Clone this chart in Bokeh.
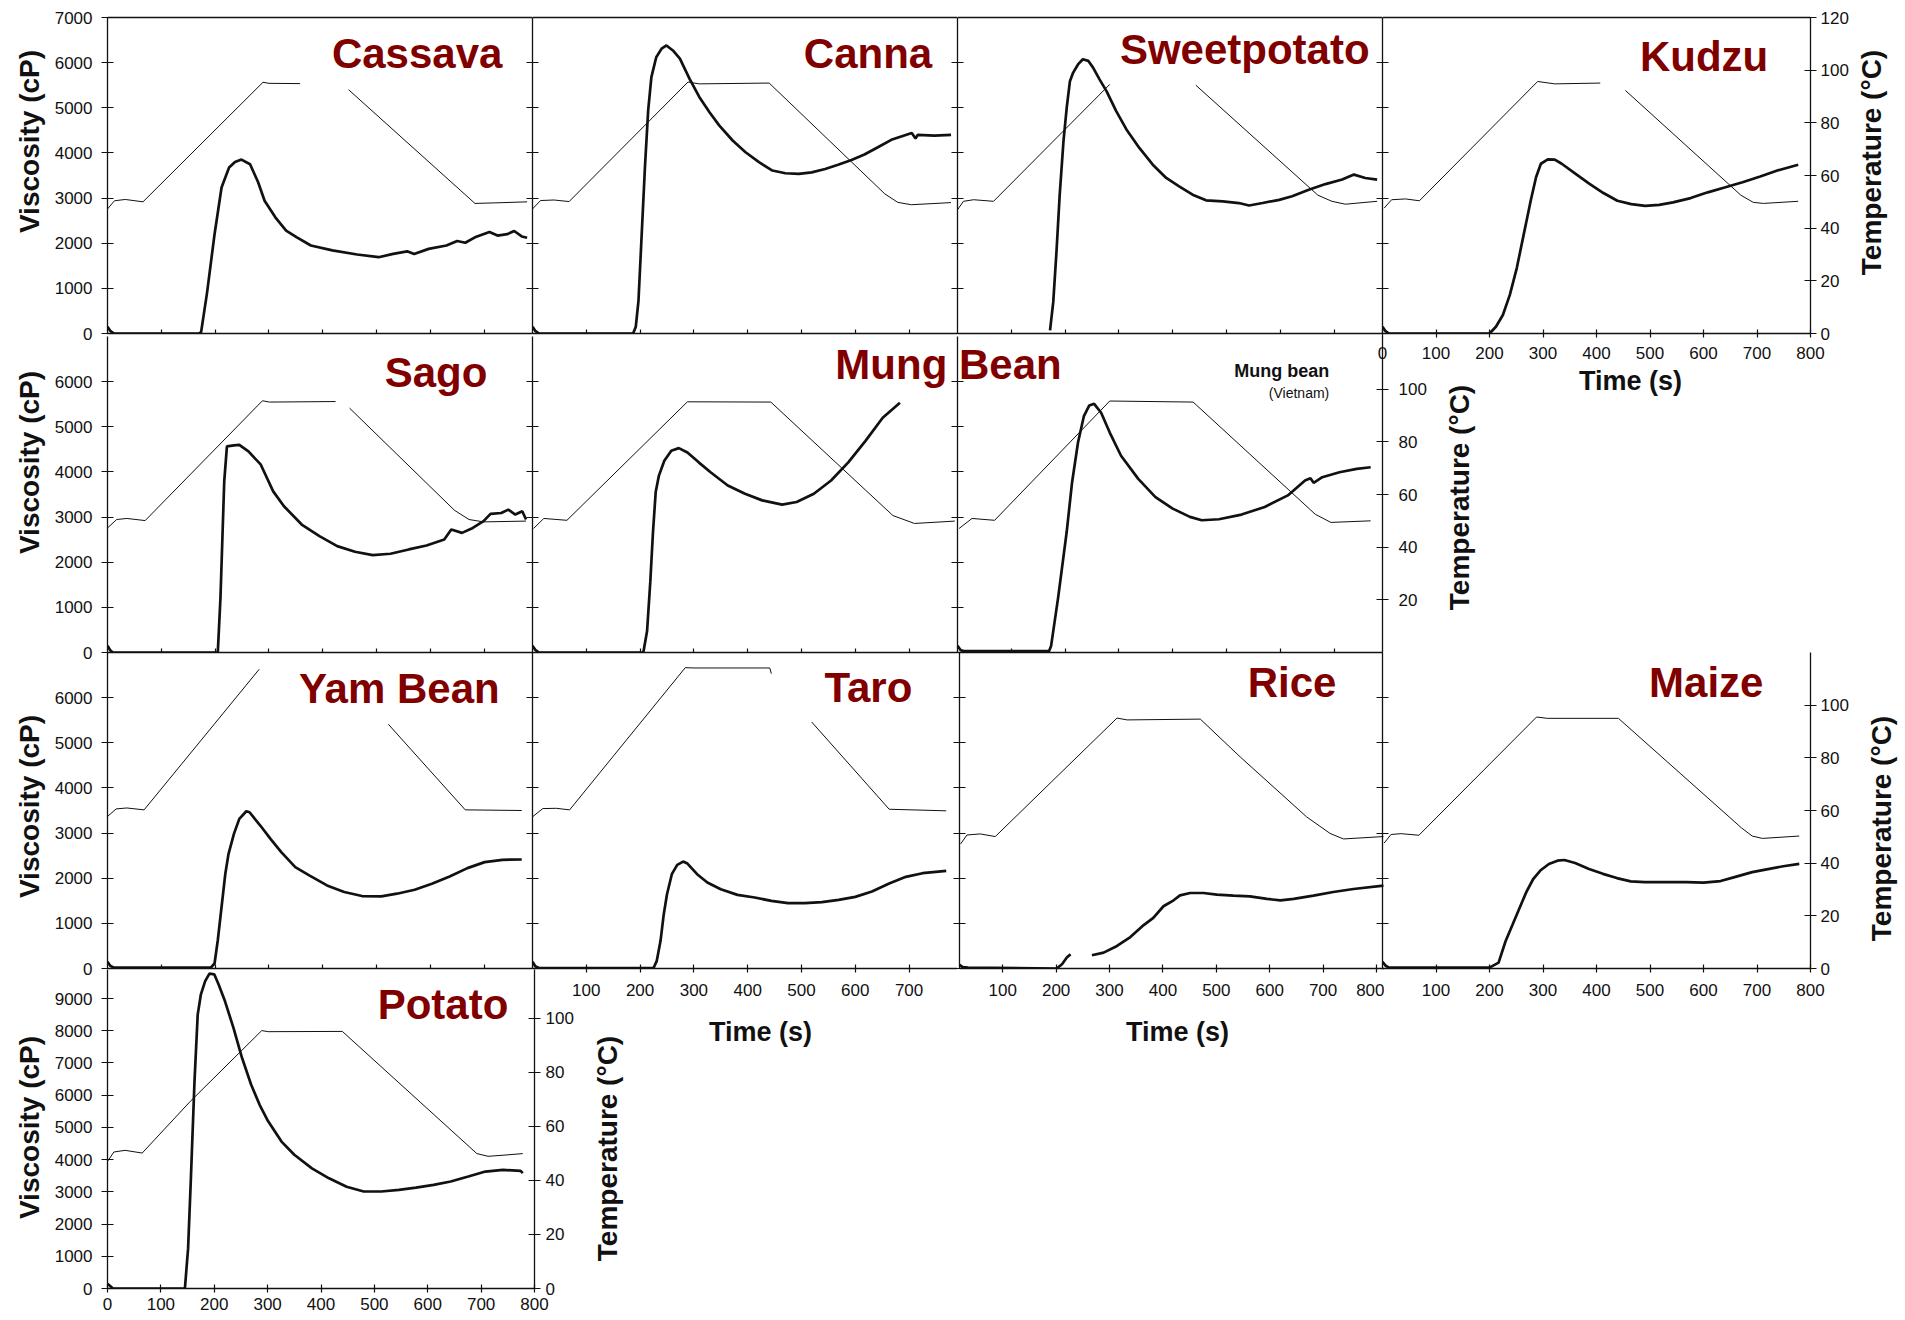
import math
import numpy as np
from bokeh.plotting import figure
from bokeh.layouts import column
from bokeh.models import Range1d, LinearAxis, FixedTicker, Label, GridBox
from bokeh.embed import file_html
from bokeh.resources import INLINE

NAN = float("nan")

# ---------------- data (time s, viscosity cP / temperature degC) ----------------
cassava_t = [0, 5, 12, 170, 174, 185, 199, 212, 226, 237, 249, 265, 280, 292, 312, 332, 352, 378, 418, 464, 504, 531, 557, 570, 597, 630, 650, 665, 683, 710, 725, 743, 756, 770, 780]
cassava_v = [150, 60, 0, 0, 30, 900, 2200, 3235, 3676, 3800, 3853, 3750, 3350, 2941, 2574, 2280, 2130, 1950, 1840, 1750, 1690, 1765, 1820, 1760, 1875, 1950, 2050, 2010, 2130, 2250, 2170, 2200, 2270, 2150, 2120]
cassava_tt = [0, 13, 33, 66, 289, 300, 358, 400, 448, 664, 683, 720, 780]
cassava_tv = [47.3, 50.4, 50.9, 50.0, 95.4, 95.0, 94.9, NAN, 92.6, 52.9, 49.4, 49.6, 50.0]

canna_t = [0, 5, 12, 187, 192, 197, 203, 209, 215, 221, 230, 240, 249, 261, 274, 292, 310, 329, 347, 372, 396, 421, 446, 470, 495, 519, 544, 568, 593, 617, 642, 667, 691, 705, 712, 716, 747, 778]
canna_v = [150, 60, 0, 0, 150, 725, 2200, 3680, 4940, 5680, 6120, 6310, 6380, 6270, 6090, 5640, 5240, 4900, 4610, 4275, 4015, 3795, 3610, 3550, 3535, 3570, 3645, 3740, 3845, 3965, 4125, 4290, 4385, 4440, 4320, 4400, 4385, 4400]
canna_tt = [0, 15, 40, 68, 289, 310, 440, 655, 679, 704, 778]
canna_tv = [47.3, 50.5, 50.7, 50.1, 95.5, 94.8, 95.1, 53.0, 49.8, 48.9, 49.7]

sweet_t = [172, 178, 184, 190, 197, 203, 209, 215, 224, 233, 243, 252, 264, 277, 295, 314, 338, 363, 388, 412, 437, 462, 493, 523, 542, 567, 598, 622, 653, 684, 715, 737, 758, 780]
sweet_v = [70, 700, 1815, 3075, 4260, 5000, 5590, 5780, 5960, 6075, 6040, 5890, 5630, 5370, 4925, 4520, 4110, 3740, 3445, 3260, 3075, 2950, 2925, 2890, 2835, 2890, 2960, 3040, 3185, 3310, 3410, 3520, 3445, 3410]
sweet_tt = [0, 11, 30, 67, 283, 360, 443, 670, 696, 721, 780]
sweet_tv = [47.0, 50.2, 50.8, 50.2, 94.6, NAN, 94.3, 52.5, 50.2, 49.1, 50.2]

kudzu_t = [0, 5, 12, 200, 212, 225, 238, 251, 264, 277, 287, 296, 309, 322, 335, 361, 387, 413, 439, 465, 491, 517, 543, 576, 608, 641, 673, 706, 738, 777]
kudzu_v = [150, 60, 0, 0, 150, 410, 856, 1450, 2196, 2940, 3460, 3760, 3856, 3850, 3760, 3536, 3313, 3112, 2940, 2866, 2829, 2851, 2904, 3000, 3127, 3239, 3350, 3477, 3611, 3737]
kudzu_tt = [3, 17, 43, 69, 290, 322, 407, 430, 454, 670, 693, 712, 777]
kudzu_tv = [47.6, 50.8, 51.1, 50.4, 95.7, 94.8, 95.1, NAN, 92.3, 52.5, 49.8, 49.4, 50.2]

sago_t = [0, 5, 10, 205, 210, 214, 217, 222, 235, 245, 262, 285, 308, 328, 361, 394, 427, 460, 493, 526, 560, 593, 626, 639, 659, 679, 699, 712, 732, 745, 758, 771, 778]
sago_v = [150, 50, 0, 0, 1215, 2690, 3790, 4565, 4590, 4600, 4455, 4160, 3570, 3240, 2835, 2577, 2356, 2231, 2158, 2187, 2283, 2371, 2504, 2725, 2650, 2760, 2910, 3070, 3090, 3165, 3055, 3130, 2945]
sago_tt = [0, 17, 36, 70, 288, 301, 424, 437, 450, 645, 672, 699, 778]
sago_tv = [47.3, 50.5, 50.9, 50.1, 95.6, 95.1, 95.3, NAN, 92.8, 54.0, 50.5, 49.6, 49.9]

mung_t = [0, 5, 12, 206, 213, 219, 224, 229, 235, 245, 258, 272, 288, 309, 331, 363, 395, 427, 464, 491, 523, 555, 587, 619, 651, 683]
mung_v = [150, 60, 0, 0, 476, 1575, 2674, 3553, 3919, 4249, 4469, 4527, 4432, 4212, 3993, 3700, 3516, 3370, 3275, 3333, 3516, 3810, 4212, 4689, 5201, 5531]
mung_tt = [2, 21, 64, 288, 443, 670, 710, 785]
mung_tv = [47.1, 50.9, 50.2, 95.2, 95.1, 52.0, 49.0, 49.9]

viet_t = [0, 6, 12, 170, 174, 187, 203, 213, 224, 235, 245, 254, 267, 283, 304, 336, 368, 400, 432, 454, 486, 528, 571, 614, 646, 656, 662, 678, 710, 742, 768]
viet_v = [150, 50, 30, 30, 146, 1209, 2674, 3773, 4652, 5238, 5472, 5509, 5311, 4872, 4359, 3846, 3443, 3187, 3004, 2930, 2952, 3055, 3223, 3480, 3810, 3861, 3758, 3883, 3993, 4066, 4103]
viet_tt = [3, 27, 69, 283, 438, 665, 694, 768]
viet_tv = [47.1, 50.9, 50.2, 95.5, 95.1, 52.5, 49.4, 50.0]

yam_t = [0, 5, 12, 192, 199, 205, 212, 219, 225, 235, 245, 258, 264, 284, 303, 323, 349, 375, 408, 440, 473, 509, 538, 571, 603, 636, 669, 701, 734, 770]
yam_v = [150, 60, 20, 20, 110, 626, 1362, 2099, 2540, 2982, 3314, 3483, 3461, 3167, 2872, 2577, 2246, 2062, 1841, 1694, 1605, 1598, 1657, 1745, 1878, 2040, 2224, 2356, 2408, 2415]
yam_tt = [0, 16, 36, 68, 282, 400, 522, 665, 770]
yam_tv = [48.1, 50.5, 50.8, 50.2, 94.7, NAN, 77.3, 50.2, 50.0]

taro_t = [0, 5, 12, 225, 231, 238, 244, 250, 259, 269, 280, 288, 306, 325, 350, 381, 413, 444, 475, 506, 538, 569, 600, 631, 663, 694, 725, 769]
taro_v = [150, 50, 10, 10, 170, 613, 1203, 1646, 2089, 2295, 2369, 2325, 2089, 1904, 1756, 1631, 1572, 1498, 1447, 1447, 1469, 1520, 1587, 1705, 1882, 2030, 2111, 2162]
taro_tt = [0, 19, 44, 69, 284, 300, 441, 444, 480, 519, 663, 769]
taro_tv = [48.0, 50.6, 50.7, 50.2, 95.2, 95.1, 95.1, 93.3, NAN, 78.0, 50.4, 49.9]

rice_t = [19, 25, 35, 201, 211, 220, 227, 247, 267, 289, 314, 339, 364, 382, 401, 420, 432, 451, 476, 501, 532, 563, 595, 620, 645, 682, 719, 757, 813]
rice_v = [80, 30, 20, 0, 95, 242, 315, NAN, 293, 352, 499, 697, 961, 1122, 1379, 1511, 1621, 1673, 1673, 1636, 1614, 1599, 1541, 1511, 1541, 1614, 1695, 1761, 1834]
rice_tt = [21, 33, 58, 86, 314, 333, 470, 545, 669, 713, 738, 813]
rice_tv = [47.3, 50.7, 51.1, 50.1, 95.1, 94.4, 94.7, 80.3, 57.6, 51.3, 49.2, 50.1]

maize_t = [0, 6, 12, 200, 217, 230, 243, 256, 269, 282, 295, 311, 327, 340, 360, 386, 412, 438, 464, 490, 529, 568, 600, 632, 658, 691, 723, 749, 779]
maize_v = [150, 60, 20, 20, 131, 604, 968, 1333, 1697, 1988, 2170, 2316, 2388, 2403, 2338, 2206, 2097, 2003, 1930, 1915, 1915, 1915, 1901, 1937, 2024, 2134, 2206, 2265, 2316]
maize_tt = [3, 16, 35, 68, 288, 308, 441, 671, 691, 710, 779]
maize_tv = [47.6, 50.9, 51.2, 50.6, 95.5, 95.0, 95.0, 53.4, 50.3, 49.4, 50.3]

potato_t = [0, 5, 10, 145, 151, 156, 163, 169, 175, 183, 191, 200, 208, 220, 236, 252, 269, 285, 301, 326, 350, 383, 415, 448, 480, 513, 546, 578, 611, 643, 676, 708, 741, 774, 778]
potato_v = [150, 80, 0, 0, 1245, 3320, 6430, 8500, 9130, 9540, 9770, 9750, 9440, 8920, 8090, 7160, 6330, 5700, 5190, 4560, 4150, 3730, 3420, 3160, 3010, 3010, 3060, 3130, 3215, 3320, 3475, 3630, 3680, 3650, 3580]
potato_tt = [0, 12, 33, 65, 155, 289, 301, 440, 692, 713, 741, 778]
potato_tv = [47.0, 50.5, 51.1, 50.1, 69.2, 95.4, 95.0, 95.1, 49.9, 48.9, 49.3, 49.9]

visc_ticks_7 = [0, 1000, 2000, 3000, 4000, 5000, 6000, 7000]
visc_ticks_6 = [0, 1000, 2000, 3000, 4000, 5000, 6000]
visc_ticks_9 = [0, 1000, 2000, 3000, 4000, 5000, 6000, 7000, 8000, 9000]
time_ticks_inner = [100, 200, 300, 400, 500, 600, 700]
time_ticks_0_800 = [0, 100, 200, 300, 400, 500, 600, 700, 800]
time_ticks_100_800 = [100, 200, 300, 400, 500, 600, 700, 800]
time_ticks_100_700 = [100, 200, 300, 400, 500, 600, 700]
temp_ticks_120 = [0, 20, 40, 60, 80, 100, 120]
temp_ticks_100 = [0, 20, 40, 60, 80, 100]
temp_ticks_20_100 = [20, 40, 60, 80, 100]

# ---------------- styling helpers ----------------
FONT = "Liberation Sans"
RED = "#800000"
INK = "#111111"


def style_axis(ax, labels, tick_in, tick_out, standoff=6):
    ax.axis_line_color = INK
    ax.axis_line_width = 1.3
    ax.major_tick_line_color = INK if (tick_in or tick_out) else None
    ax.major_tick_line_width = 1.2
    ax.major_tick_in = tick_in
    ax.major_tick_out = tick_out
    ax.minor_tick_line_color = None
    ax.major_label_text_font = FONT
    ax.major_label_text_font_size = "17px"
    if labels:
        ax.major_label_text_color = INK
        ax.major_label_standoff = standoff
    else:
        ax.major_label_text_color = None
        ax.major_label_standoff = 0


PLACES = []


def base(frame_left, frame_top, fw, fh, xr, yr, tr, bl, br, bt, bb):
    p = figure(frame_width=fw, frame_height=fh,
               x_range=Range1d(*xr), y_range=Range1d(*yr),
               x_axis_type=None, y_axis_type=None,
               output_backend="svg", toolbar_location=None,
               min_border_left=bl, min_border_right=br,
               min_border_top=bt, min_border_bottom=bb)
    p.extra_y_ranges = {"temp": Range1d(*tr)}
    p.outline_line_color = None
    p.background_fill_color = None
    p.border_fill_color = None
    PLACES.append((p, frame_top - bt, frame_left - bl))
    return p


def text_box(cx, cy, w, h, text, size, angle=0.0, color=INK, bold=True):
    """A bare transparent frame that carries one piece of text centred in it."""
    p = figure(frame_width=w, frame_height=h, x_range=Range1d(0, 1), y_range=Range1d(0, 1),
               x_axis_type=None, y_axis_type=None, output_backend="svg", toolbar_location=None,
               min_border_left=0, min_border_right=0, min_border_top=0, min_border_bottom=0)
    p.outline_line_color = None
    p.background_fill_color = None
    p.border_fill_color = None
    p.add_layout(Label(x=0.5, y=0.5, text=text, angle=angle, text_align="center",
                       text_baseline="middle", text_font=FONT,
                       text_font_style="bold" if bold else "normal",
                       text_font_size=f"{size}px", text_color=color))
    PLACES.append((p, int(round(cy - h / 2)), int(round(cx - w / 2))))
    return p


def curves(p, t, v, tt, tv):
    p.line(np.array(tt, dtype=float), np.array(tv, dtype=float), y_range_name="temp",
           line_color=INK, line_width=1.0)
    p.line(np.array(t, dtype=float), np.array(v, dtype=float), line_color=INK, line_width=2.7)


def left_axis(p, ticks, labels=False):
    ax = LinearAxis(ticker=FixedTicker(ticks=ticks))
    style_axis(ax, labels, 6, 6, standoff=9)
    p.add_layout(ax, "left")


def bottom_axis(p, ticks, labels=False, standoff=6):
    ax = LinearAxis(ticker=FixedTicker(ticks=ticks))
    style_axis(ax, labels, 4, 4 if labels else 0, standoff)
    p.add_layout(ax, "below")


def right_axis(p, ticks, standoff=6):
    ax = LinearAxis(y_range_name="temp", ticker=FixedTicker(ticks=ticks))
    style_axis(ax, True, 6, 6, standoff)
    p.add_layout(ax, "right")


def top_line(p):
    ax = LinearAxis(ticker=FixedTicker(ticks=[]))
    style_axis(ax, False, 0, 0)
    p.add_layout(ax, "above")


def name_label(p, text, x, y, size=42, color=RED, bold=True):
    p.add_layout(Label(x=x, y=y, text=text, text_align="right", text_baseline="middle",
                       text_font=FONT, text_font_style="bold" if bold else "normal",
                       text_font_size=f"{size}px", text_color=color))


VISC = "Viscosity (cP)"
TEMP = "Temperature (°C)"
TIME = "Time (s)"
UP = math.pi / 2

UL = 46   # unlabeled left axes (labels hidden but still measured)
UB = 24   # unlabeled bottom axes
LL = 62   # labeled left axes

# ---------------- row 1 ----------------
p = base(107, 17, 425, 316, (0, 790), (0, 7000), (0, 120), LL, 0, 9, UB)
curves(p, cassava_t, cassava_v, cassava_tt, cassava_tv)
left_axis(p, visc_ticks_7, True)
bottom_axis(p, time_ticks_inner)
top_line(p)
name_label(p, "Cassava", 734, 6200)

p = base(532, 17, 425, 316, (0, 790), (0, 7000), (0, 120), UL, 0, 9, UB)
curves(p, canna_t, canna_v, canna_tt, canna_tv)
left_axis(p, visc_ticks_6)
bottom_axis(p, time_ticks_inner)
top_line(p)
name_label(p, "Canna", 743, 6200)

p = base(957, 17, 425, 316, (0, 790), (0, 7000), (0, 120), UL, 0, 9, UB)
curves(p, sweet_t, sweet_v, sweet_tt, sweet_tv)
left_axis(p, visc_ticks_6)
bottom_axis(p, time_ticks_inner)
top_line(p)
name_label(p, "Sweetpotato", 766, 6300)

p = base(1382, 17, 428, 316, (0, 800), (0, 7000), (0, 120), UL, 45, 9, 36)
curves(p, kudzu_t, kudzu_v, kudzu_tt, kudzu_tv)
left_axis(p, visc_ticks_6)
bottom_axis(p, time_ticks_0_800, True, standoff=9)
right_axis(p, temp_ticks_120, standoff=4)
top_line(p)
name_label(p, "Kudzu", 721, 6140)

# ---------------- row 2 ----------------
p = base(107, 336, 425, 316, (0, 790), (0, 7000), (0, 120), LL, 0, 3, UB)
curves(p, sago_t, sago_v, sago_tt, sago_tv)
left_axis(p, visc_ticks_6, True)
bottom_axis(p, time_ticks_inner)
name_label(p, "Sago", 706, 6200)

p = base(532, 336, 425, 316, (0, 790), (0, 7000), (0, 120), UL, 0, 3, UB)
curves(p, mung_t, mung_v, mung_tt, mung_tv)
left_axis(p, visc_ticks_6)
bottom_axis(p, time_ticks_inner)

p = base(957, 336, 425, 316, (0, 790), (0, 7000), (0, 120), UL, 50, 3, UB)
curves(p, viet_t, viet_v, viet_tt, viet_tv)
left_axis(p, visc_ticks_6)
bottom_axis(p, time_ticks_inner)
right_axis(p, temp_ticks_20_100, standoff=10)
name_label(p, "Mung bean", 691, 6240, size=18, color=INK)
name_label(p, "(Vietnam)", 691, 5750, size=14, color=INK, bold=False)

# ---------------- row 3 ----------------
p = base(107, 652, 425, 316, (0, 790), (0, 7000), (0, 100), LL, 0, 3, UB)
curves(p, yam_t, yam_v, yam_tt, yam_tv)
left_axis(p, visc_ticks_6, True)
bottom_axis(p, time_ticks_inner)
name_label(p, "Yam Bean", 729, 6200)

p = base(532, 652, 425, 316, (0, 790), (0, 7000), (0, 100), UL, 0, 3, 38)
curves(p, taro_t, taro_v, taro_tt, taro_tv)
left_axis(p, visc_ticks_6)
bottom_axis(p, time_ticks_100_700, True, standoff=11)
name_label(p, "Taro", 706, 6220)

p = base(959, 652, 425, 316, (19, 815), (0, 7000), (0, 120), UL, 0, 3, 38)
curves(p, rice_t, rice_v, rice_tt, rice_tv)
left_axis(p, visc_ticks_6)
bottom_axis(p, time_ticks_100_800, True, standoff=11)
name_label(p, "Rice", 725, 6330)

p = base(1382, 652, 428, 316, (0, 800), (0, 7000), (0, 120), UL, 45, 3, 38)
curves(p, maize_t, maize_v, maize_tt, maize_tv)
left_axis(p, visc_ticks_6)
bottom_axis(p, time_ticks_100_800, True, standoff=11)
right_axis(p, temp_ticks_100, standoff=4)
name_label(p, "Maize", 712, 6330)

# ---------------- row 4 ----------------
p = base(107, 969, 427, 319, (0, 800), (0, 9900), (0, 118), LL, 45, 3, 30)
curves(p, potato_t, potato_v, potato_tt, potato_tv)
left_axis(p, visc_ticks_9, True)
bottom_axis(p, time_ticks_0_800, True, standoff=5)
right_axis(p, temp_ticks_100, standoff=5)
name_label(p, "Potato", 751, 8820)

# ---------------- free-standing texts (axis titles, split panel title) ----------------
text_box(29, 141, 38, 230, VISC, 28, UP)
text_box(29, 462, 38, 230, VISC, 28, UP)
text_box(29, 806, 38, 230, VISC, 28, UP)
text_box(29, 1127, 38, 230, VISC, 28, UP)
text_box(1871, 162, 38, 250, TEMP, 28, UP)
text_box(1459, 497, 38, 250, TEMP, 28, UP)
text_box(1881, 828, 38, 250, TEMP, 28, UP)
text_box(607, 1148, 38, 250, TEMP, 28, UP)
text_box(1630, 380, 130, 36, TIME, 27)
text_box(760, 1031, 130, 36, TIME, 27)
text_box(1177, 1031, 130, 36, TIME, 27)
text_box(948, 364, 250, 52, "Mung Bean", 42, color=RED)

children = []
for fig, top, left in PLACES:
    children.append((column(fig, margin=(top, 0, 0, left)), 0, 0))

grid = GridBox(children=children, spacing=0)

open("out.html", "w").write(file_html(grid, INLINE, title="RVA pasting profiles"))
